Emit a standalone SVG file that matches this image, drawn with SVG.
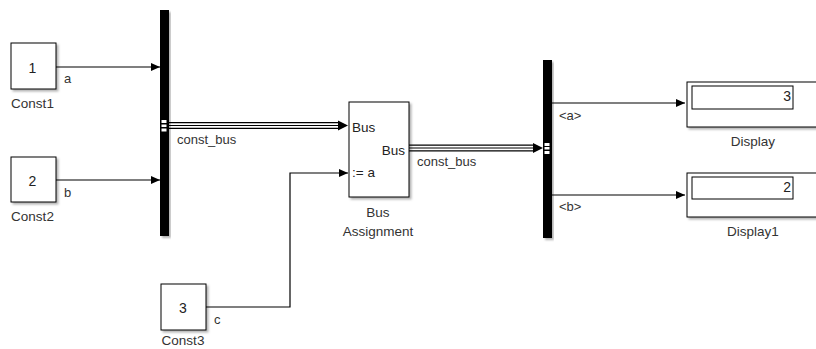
<svg xmlns="http://www.w3.org/2000/svg" width="816" height="349" viewBox="0 0 816 349">
<style>
text{font-family:"Liberation Sans",Arial,sans-serif;fill:#222}
.blk{fill:#fff;stroke:#000;stroke-width:1}
.num{font-size:14px;text-anchor:middle}
.name{font-size:13.5px;text-anchor:middle;fill:#333}
.sig{font-size:13px;fill:#333}
.port{font-size:13.5px}
.ln{fill:none;stroke:#000;stroke-width:1.2}
.busO{fill:none;stroke:#000;stroke-width:7}
.busI{fill:none;stroke:#fff;stroke-width:4.6}
.busC{fill:none;stroke:#000;stroke-width:1}
.bar{fill:#000}
</style>
<defs>
<filter id="sh" x="-20%" y="-20%" width="140%" height="140%">
<feDropShadow dx="2" dy="2" stdDeviation="1.2" flood-color="#000" flood-opacity="0.3"/>
</filter>
<marker id="arr" markerWidth="10" markerHeight="10" refX="9" refY="5" orient="auto" markerUnits="userSpaceOnUse">
<path d="M0,1 L9,5 L0,9 Z" fill="#000"/>
</marker>
</defs>
<rect width="816" height="349" fill="#fff"/>

<g id="connectors">
<line class="ln" x1="56" y1="67" x2="160" y2="67" marker-end="url(#arr)"/>
<line class="ln" x1="56" y1="180" x2="160" y2="180" marker-end="url(#arr)"/>
<polyline class="ln" points="206,307 290,307 290,173 348,173" marker-end="url(#arr)"/>
<line class="ln" x1="552" y1="103" x2="685" y2="103" marker-end="url(#arr)"/>
<line class="ln" x1="552" y1="195" x2="685" y2="195" marker-end="url(#arr)"/>
<g id="bus1">
<line class="busO" x1="169" y1="125.5" x2="340" y2="125.5"/>
<line class="busI" x1="169" y1="125.5" x2="340" y2="125.5"/>
<line class="busC" x1="169" y1="125.5" x2="340" y2="125.5"/>
<path d="M338,120.5 L348,125.5 L338,130.5 Z" fill="#000"/>
</g>
<g id="bus2">
<line class="busO" x1="409" y1="148" x2="534" y2="148"/>
<line class="busI" x1="409" y1="148" x2="534" y2="148"/>
<line class="busC" x1="409" y1="148" x2="534" y2="148"/>
<path d="M533,143 L543,148 L533,153 Z" fill="#000"/>
</g>
<text class="sig" x="64" y="83">a</text>
<text class="sig" x="64" y="197">b</text>
<text class="sig" x="214" y="324">c</text>
<text class="sig" x="177" y="144">const_bus</text>
<text class="sig" x="417" y="166">const_bus</text>
<text class="sig" x="559" y="120">&lt;a&gt;</text>
<text class="sig" x="559" y="211">&lt;b&gt;</text>
</g>

<g id="Const1">
<rect class="blk" x="11" y="43" width="45" height="46" filter="url(#sh)"/>
<text class="num" x="32.5" y="73">1</text>
<text class="name" x="32.5" y="108">Const1</text>
</g>
<g id="Const2">
<rect class="blk" x="11" y="157" width="45" height="45" filter="url(#sh)"/>
<text class="num" x="32.5" y="186">2</text>
<text class="name" x="32.5" y="221">Const2</text>
</g>
<g id="Const3">
<rect class="blk" x="161" y="284" width="45" height="46" filter="url(#sh)"/>
<text class="num" x="183" y="313">3</text>
<text class="name" x="183" y="345">Const3</text>
</g>
<g id="BusCreator">
<rect class="bar" x="160" y="10" width="9" height="226" filter="url(#sh)"/>
<rect x="161.5" y="120" width="5" height="3" fill="#fff"/>
<rect x="161.5" y="124.5" width="5" height="2.5" fill="#fff"/>
<rect x="161.5" y="128.5" width="5" height="3" fill="#fff"/>
</g>
<g id="BusAssignment">
<rect class="blk" x="349" y="102" width="60" height="95" filter="url(#sh)"/>
<text class="port" x="352" y="132">Bus</text>
<text class="port" x="405" y="155" text-anchor="end">Bus</text>
<text class="port" x="352" y="177">:= a</text>
<text class="name" x="378" y="217">Bus</text>
<text class="name" x="378" y="236">Assignment</text>
</g>
<g id="BusSelector">
<rect class="bar" x="543" y="60" width="9" height="178" filter="url(#sh)"/>
<rect x="544.5" y="143" width="5" height="3" fill="#fff"/>
<rect x="544.5" y="147" width="5" height="2.5" fill="#fff"/>
<rect x="544.5" y="151" width="5" height="3" fill="#fff"/>
</g>
<g id="Display">
<rect class="blk" x="687" y="82" width="140" height="45" filter="url(#sh)"/>
<rect class="blk" x="692" y="86" width="101" height="23"/>
<text x="791" y="101" font-size="14" text-anchor="end">3</text>
<text class="name" x="753" y="146">Display</text>
</g>
<g id="Display1">
<rect class="blk" x="687" y="173" width="140" height="44" filter="url(#sh)"/>
<rect class="blk" x="692" y="177" width="101" height="22"/>
<text x="791" y="192" font-size="14" text-anchor="end">2</text>
<text class="name" x="753" y="236">Display1</text>
</g>
</svg>
